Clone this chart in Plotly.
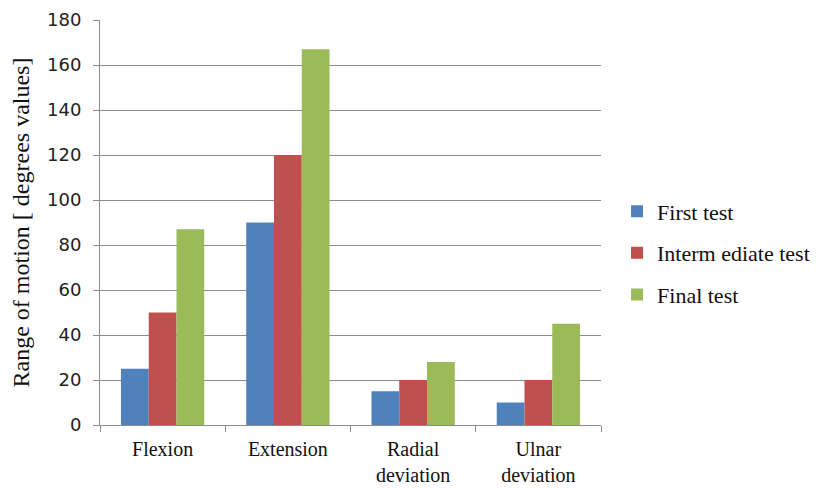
import plotly.graph_objects as go

# Wrist range of motion per movement, three test sessions
categories = ["Flexion", "Extension", "Radial<br>deviation", "Ulnar<br>deviation"]
first_test = [25, 90, 15, 10]
intermediate_test = [50, 120, 20, 20]
final_test = [87, 167, 28, 45]

series = [
    ("First test", first_test, "#4F81BD"),
    ("Interm ediate test", intermediate_test, "#C0504D"),
    ("Final test", final_test, "#9BBB59"),
]

y_ticks = list(range(0, 181, 20))

serif = "Liberation Serif, Times New Roman, DejaVu Serif, serif"
grid = "#8C8C8C"

fig = go.Figure()
for i, (name, values, color) in enumerate(series):
    fig.add_trace(go.Bar(
        x=categories, y=values, name=name,
        marker=dict(color=color, line=dict(width=0)),
        legendgroup=f"g{i}",
    ))

fig.update_layout(
    width=822, height=488,
    margin=dict(l=100, r=221, t=20, b=63, autoexpand=False),
    paper_bgcolor="white", plot_bgcolor="white",
    barmode="group", bargap=0.335, bargroupgap=0,
    font=dict(family=serif, size=22, color="#111111"),
    legend=dict(
        x=1.032, y=0.425, xanchor="left", yanchor="middle",
        font=dict(family=serif, size=22, color="#111111"),
        tracegroupgap=10, itemwidth=30,
        bgcolor="rgba(0,0,0,0)",
    ),
    xaxis=dict(
        automargin=False,
        showgrid=False, showline=True, linecolor=grid, linewidth=1,
        ticks="outside", tickson="boundaries", ticklen=6, tickcolor=grid,
        tickfont=dict(family=serif, size=20, color="#111111"),
        ticklabelstandoff=6,
    ),
    yaxis=dict(
        automargin=False,
        range=[0, 180], tickvals=y_ticks,
        showgrid=True, gridcolor=grid, gridwidth=1,
        showline=True, linecolor=grid, linewidth=1,
        ticks="outside", ticklen=6, tickcolor=grid,
        tickfont=dict(family="DejaVu Sans", size=18, color="#222222"),
        ticklabelstandoff=8,
        zeroline=False,
        title=dict(text="Range of motion [ degrees values]",
                   font=dict(family=serif, size=24, color="#111111"),
                   standoff=10),
    ),
)

fig.write_html("out.html")
